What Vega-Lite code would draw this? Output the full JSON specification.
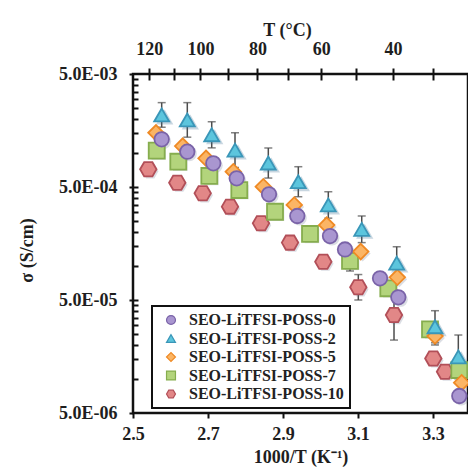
{
  "$schema": "https://vega.github.io/schema/vega-lite/v6.json",
  "width": 335,
  "height": 339,
  "autosize": {"type": "none"},
  "padding": {"left": 133, "top": 74, "right": 0, "bottom": 62},
  "background": "white",
  "datasets": {
    "pts": [
      {"g": "SEO-LiTFSI-POSS-10", "x": 2.5408, "s": 7.17e-4},
      {"g": "SEO-LiTFSI-POSS-10", "x": 2.6181, "s": 5.46e-4},
      {"g": "SEO-LiTFSI-POSS-10", "x": 2.6859, "s": 4.40e-4},
      {"g": "SEO-LiTFSI-POSS-10", "x": 2.7587, "s": 3.35e-4},
      {"g": "SEO-LiTFSI-POSS-10", "x": 2.8413, "s": 2.39e-4},
      {"g": "SEO-LiTFSI-POSS-10", "x": 2.9187, "s": 1.61e-4},
      {"g": "SEO-LiTFSI-POSS-10", "x": 3.0075, "s": 1.09e-4},
      {"g": "SEO-LiTFSI-POSS-10", "x": 3.1008, "s": 6.48e-5, "lo": 5.0e-5, "hi": 8.4e-5},
      {"g": "SEO-LiTFSI-POSS-10", "x": 3.196, "s": 3.68e-5, "lo": 2.21e-5, "hi": 6.12e-5},
      {"g": "SEO-LiTFSI-POSS-10", "x": 3.3008, "s": 1.52e-5},
      {"g": "SEO-LiTFSI-POSS-10", "x": 3.332, "s": 1.16e-5},
      {"g": "SEO-LiTFSI-POSS-7", "x": 2.5632, "s": 1.05e-3},
      {"g": "SEO-LiTFSI-POSS-7", "x": 2.6208, "s": 8.37e-4},
      {"g": "SEO-LiTFSI-POSS-7", "x": 2.7035, "s": 6.26e-4},
      {"g": "SEO-LiTFSI-POSS-7", "x": 2.7835, "s": 4.70e-4},
      {"g": "SEO-LiTFSI-POSS-7", "x": 2.8787, "s": 3.02e-4},
      {"g": "SEO-LiTFSI-POSS-7", "x": 2.972, "s": 1.92e-4},
      {"g": "SEO-LiTFSI-POSS-7", "x": 3.0787, "s": 1.11e-4, "lo": 9.03e-5, "hi": 1.364e-4},
      {"g": "SEO-LiTFSI-POSS-7", "x": 3.1808, "s": 6.35e-5},
      {"g": "SEO-LiTFSI-POSS-7", "x": 3.292, "s": 2.75e-5},
      {"g": "SEO-LiTFSI-POSS-7", "x": 3.3701, "s": 1.20e-5},
      {"g": "SEO-LiTFSI-POSS-5", "x": 2.5613, "s": 1.51e-3},
      {"g": "SEO-LiTFSI-POSS-5", "x": 2.6325, "s": 1.15e-3},
      {"g": "SEO-LiTFSI-POSS-5", "x": 2.6947, "s": 8.97e-4},
      {"g": "SEO-LiTFSI-POSS-5", "x": 2.7675, "s": 6.83e-4},
      {"g": "SEO-LiTFSI-POSS-5", "x": 2.8475, "s": 5.03e-4},
      {"g": "SEO-LiTFSI-POSS-5", "x": 2.9301, "s": 3.47e-4},
      {"g": "SEO-LiTFSI-POSS-5", "x": 3.0165, "s": 2.30e-4},
      {"g": "SEO-LiTFSI-POSS-5", "x": 3.1072, "s": 1.34e-4},
      {"g": "SEO-LiTFSI-POSS-5", "x": 3.2048, "s": 7.94e-5},
      {"g": "SEO-LiTFSI-POSS-5", "x": 3.3053, "s": 2.40e-5, "lo": 2.0e-5, "hi": 2.88e-5},
      {"g": "SEO-LiTFSI-POSS-5", "x": 3.3765, "s": 9.27e-6},
      {"g": "SEO-LiTFSI-POSS-0", "x": 2.5765, "s": 1.32e-3},
      {"g": "SEO-LiTFSI-POSS-0", "x": 2.6448, "s": 1.027e-3},
      {"g": "SEO-LiTFSI-POSS-0", "x": 2.7141, "s": 8.10e-4},
      {"g": "SEO-LiTFSI-POSS-0", "x": 2.7765, "s": 5.97e-4},
      {"g": "SEO-LiTFSI-POSS-0", "x": 2.8627, "s": 4.31e-4},
      {"g": "SEO-LiTFSI-POSS-0", "x": 2.9381, "s": 2.77e-4},
      {"g": "SEO-LiTFSI-POSS-0", "x": 3.0253, "s": 1.84e-4},
      {"g": "SEO-LiTFSI-POSS-0", "x": 3.0653, "s": 1.40e-4},
      {"g": "SEO-LiTFSI-POSS-0", "x": 3.1587, "s": 7.78e-5},
      {"g": "SEO-LiTFSI-POSS-0", "x": 3.2075, "s": 5.28e-5},
      {"g": "SEO-LiTFSI-POSS-0", "x": 3.3701, "s": 7.07e-6},
      {"g": "SEO-LiTFSI-POSS-2", "x": 2.5765, "s": 2.17e-3, "lo": 1.69e-3, "hi": 2.79e-3},
      {"g": "SEO-LiTFSI-POSS-2", "x": 2.6448, "s": 1.96e-3, "lo": 1.38e-3, "hi": 2.79e-3},
      {"g": "SEO-LiTFSI-POSS-2", "x": 2.7099, "s": 1.45e-3, "lo": 1.11e-3, "hi": 1.89e-3},
      {"g": "SEO-LiTFSI-POSS-2", "x": 2.772, "s": 1.06e-3, "lo": 7.44e-4, "hi": 1.51e-3},
      {"g": "SEO-LiTFSI-POSS-2", "x": 2.8608, "s": 8.15e-4, "lo": 6.0e-4, "hi": 1.107e-3},
      {"g": "SEO-LiTFSI-POSS-2", "x": 2.9408, "s": 5.57e-4, "lo": 4.1e-4, "hi": 7.56e-4},
      {"g": "SEO-LiTFSI-POSS-2", "x": 3.0208, "s": 3.47e-4, "lo": 2.65e-4, "hi": 4.54e-4},
      {"g": "SEO-LiTFSI-POSS-2", "x": 3.1099, "s": 2.11e-4, "lo": 1.61e-4, "hi": 2.77e-4},
      {"g": "SEO-LiTFSI-POSS-2", "x": 3.2032, "s": 1.06e-4, "lo": 7.59e-5, "hi": 1.48e-4},
      {"g": "SEO-LiTFSI-POSS-2", "x": 3.3053, "s": 2.90e-5, "lo": 2.09e-5, "hi": 4.02e-5},
      {"g": "SEO-LiTFSI-POSS-2", "x": 3.3675, "s": 1.57e-5, "lo": 1.006e-5, "hi": 2.45e-5}
    ]
  },
  "data": {"name": "pts"},
  "resolve": {"axis": {"x": "independent", "y": "independent"}},
  "layer": [
    {
      "transform": [{"filter": "isValid(datum.lo)"}],
      "mark": {"type": "errorbar", "ticks": true, "size": 8, "thickness": 1.5, "color": "#4d4d4d"},
      "encoding": {
        "x": {"field": "x", "type": "quantitative", "scale": {"domain": [2.5, 3.3933], "nice": false, "zero": false},
          "axis": {"orient": "top", "offset": -6, "tickSize": 12, "labelPadding": 10, "labelBaseline": "bottom",
            "values": [2.54356, 2.60994, 2.67989, 2.75368, 2.83166, 2.91418, 3.00165, 3.09454, 3.19336, 3.2987, 3.41122],
            "labelExpr": "round(1000/datum.value - 273.15) % 20 == 0 ? '' + round(1000/datum.value - 273.15) : ''",
            "title": "T (°C)", "titleX": 154, "titlePadding": 1}},
        "y": {"field": "lo", "type": "quantitative", "scale": {"type": "log", "domain": [5e-6, 5e-3], "nice": false},
          "axis": {"orient": "left", "offset": -5, "tickSize": 5, "labels": false, "title": null,
            "values": [1e-5, 1.5e-5, 2e-5, 2.5e-5, 3e-5, 3.5e-5, 4e-5, 4.5e-5, 5e-5, 1e-4, 1.5e-4, 2e-4, 2.5e-4, 3e-4, 3.5e-4, 4e-4, 4.5e-4, 5e-4, 1e-3, 1.5e-3, 2e-3, 2.5e-3, 3e-3, 3.5e-3, 4e-3, 4.5e-3]}},
        "y2": {"field": "hi"}
      }
    },
    {
      "transform": [{"filter": "datum.g == 'SEO-LiTFSI-POSS-10'"}],
      "mark": {"type": "point", "shape": "M-1,0L-0.5,-0.866L0.5,-0.866L1,0L0.5,0.866L-0.5,0.866Z", "size": 270, "filled": true, "fill": "#4a5a78", "opacity": 0.2, "strokeWidth": 0, "xOffset": 2, "yOffset": 2},
      "encoding": {"x": {"field": "x", "type": "quantitative", "axis": null}, "y": {"field": "s", "type": "quantitative", "axis": null}}
    },
    {
      "transform": [{"filter": "datum.g == 'SEO-LiTFSI-POSS-7'"}],
      "mark": {"type": "point", "shape": "square", "size": 210, "filled": true, "fill": "#4a5a78", "opacity": 0.2, "strokeWidth": 0, "xOffset": 2, "yOffset": 2},
      "encoding": {"x": {"field": "x", "type": "quantitative", "axis": null}, "y": {"field": "s", "type": "quantitative", "axis": null}}
    },
    {
      "transform": [{"filter": "datum.g == 'SEO-LiTFSI-POSS-5'"}],
      "mark": {"type": "point", "shape": "diamond", "size": 250, "filled": true, "fill": "#4a5a78", "opacity": 0.2, "strokeWidth": 0, "xOffset": 2, "yOffset": 2},
      "encoding": {"x": {"field": "x", "type": "quantitative", "axis": null}, "y": {"field": "s", "type": "quantitative", "axis": null}}
    },
    {
      "transform": [{"filter": "datum.g == 'SEO-LiTFSI-POSS-0'"}],
      "mark": {"type": "point", "shape": "circle", "size": 225, "filled": true, "fill": "#4a5a78", "opacity": 0.2, "strokeWidth": 0, "xOffset": 2, "yOffset": 2},
      "encoding": {"x": {"field": "x", "type": "quantitative", "axis": null}, "y": {"field": "s", "type": "quantitative", "axis": null}}
    },
    {
      "transform": [{"filter": "datum.g == 'SEO-LiTFSI-POSS-2'"}],
      "mark": {"type": "point", "shape": "triangle-up", "size": 300, "filled": true, "fill": "#3a6a90", "opacity": 0.28, "strokeWidth": 0, "xOffset": 3, "yOffset": 2},
      "encoding": {"x": {"field": "x", "type": "quantitative", "axis": null}, "y": {"field": "s", "type": "quantitative", "axis": null}}
    },
    {
      "mark": {"type": "point", "filled": true, "opacity": 1, "strokeWidth": 1.8},
      "encoding": {
        "x": {"field": "x", "type": "quantitative", "scale": {"domain": [2.5, 3.3933], "nice": false, "zero": false},
          "axis": {"orient": "bottom", "values": [2.5, 2.7, 2.9, 3.1, 3.3], "format": ".1f", "tickSize": 5, "labelPadding": 7,
            "title": "1000/T (K⁻¹)", "titlePadding": 5}},
        "y": {"field": "s", "type": "quantitative", "scale": {"type": "log", "domain": [5e-6, 5e-3], "nice": false},
          "axis": {"orient": "left", "values": [5e-6, 5e-5, 5e-4, 5e-3], "tickSize": 4, "labelPadding": 12,
            "labelExpr": "replace(upper(format(datum.value, '.1e')), 'E-', 'E-0')",
            "title": "σ (S/cm)", "titleX": -97, "titleY": 176}},
        "shape": {"field": "g", "type": "nominal",
          "scale": {"domain": ["SEO-LiTFSI-POSS-0", "SEO-LiTFSI-POSS-2", "SEO-LiTFSI-POSS-5", "SEO-LiTFSI-POSS-7", "SEO-LiTFSI-POSS-10"],
            "range": ["circle", "triangle-up", "diamond", "square", "M-1,0L-0.5,-0.866L0.5,-0.866L1,0L0.5,0.866L-0.5,0.866Z"]},
          "legend": {"title": null, "orient": "none", "legendX": 19, "legendY": 232}},
        "fill": {"field": "g", "type": "nominal",
          "scale": {"domain": ["SEO-LiTFSI-POSS-0", "SEO-LiTFSI-POSS-2", "SEO-LiTFSI-POSS-5", "SEO-LiTFSI-POSS-7", "SEO-LiTFSI-POSS-10"],
            "range": ["#a996d0", "#5cc5dd", "#fbb565", "#b3d47c", "#e28787"]},
          "legend": {"title": null, "orient": "none", "legendX": 19, "legendY": 232}},
        "stroke": {"field": "g", "type": "nominal",
          "scale": {"domain": ["SEO-LiTFSI-POSS-0", "SEO-LiTFSI-POSS-2", "SEO-LiTFSI-POSS-5", "SEO-LiTFSI-POSS-7", "SEO-LiTFSI-POSS-10"],
            "range": ["#7a63a8", "#3a96b8", "#ef8a25", "#86ad4e", "#b24f58"]},
          "legend": {"title": null, "orient": "none", "legendX": 19, "legendY": 232}},
        "size": {"field": "g", "type": "nominal", "legend": null,
          "scale": {"domain": ["SEO-LiTFSI-POSS-10", "SEO-LiTFSI-POSS-7", "SEO-LiTFSI-POSS-5", "SEO-LiTFSI-POSS-2", "SEO-LiTFSI-POSS-0"],
            "range": [270, 210, 250, 300, 225]}}
      }
    }
  ],
  "config": {
    "view": {"stroke": "#111", "strokeWidth": 2.5},
    "axis": {
      "labelFont": "Liberation Serif", "labelFontWeight": "bold", "labelFontSize": 18, "labelColor": "#1e1e1e",
      "titleFont": "Liberation Serif", "titleFontWeight": "bold", "titleFontSize": 18, "titleColor": "#1e1e1e",
      "tickColor": "#111", "tickWidth": 2, "domain": false, "grid": false, "labelFlush": false, "labelOverlap": false
    },
    "legend": {
      "padding": 6, "strokeColor": "#111", "strokeWidth": 2, "fillColor": "white",
      "symbolSize": 80, "symbolStrokeWidth": 1.2, "symbolOffset": 5, "labelOffset": 10,
      "labelFont": "Liberation Serif", "labelFontWeight": "bold", "labelFontSize": 16, "labelColor": "#222", "rowPadding": 2.5, "labelLimit": 300
    }
  }
}
